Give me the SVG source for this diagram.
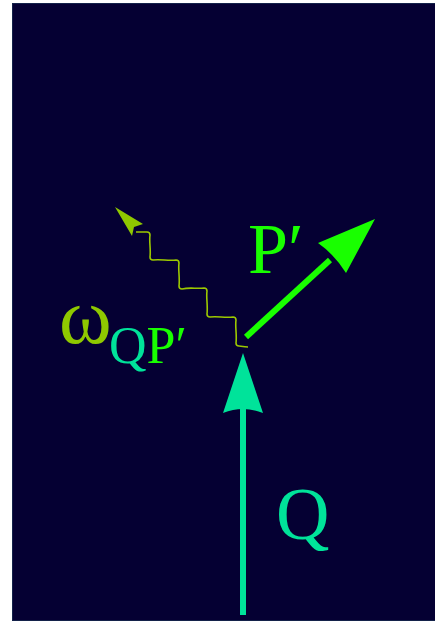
<svg xmlns="http://www.w3.org/2000/svg" width="435" height="621" viewBox="0 0 435 621">
<style>
.lbl{font-family:"Liberation Serif","Times New Roman",serif}
.q{fill:#00e39a}
.p{fill:#19ff00}
.w{fill:#8fc800}
</style>
<rect x="0" y="0" width="435" height="621" fill="#ffffff"/>
<rect x="12.5" y="3.5" width="423" height="617" fill="#050033" stroke="#14224a" stroke-width="1"/>
<g id="connectors">
<g id="edge-Q">
<line x1="243" y1="615" x2="243" y2="408" stroke="#00e39a" stroke-width="6"/>
<path d="M243,353 L263,413 Q243,405 223,413 Z" fill="#00e39a"/>
</g>
<g id="edge-P">
<line x1="246" y1="337" x2="330" y2="260" stroke="#19ff00" stroke-width="6"/>
<path d="M375,219 L346,273 Q334,254 318,243 Z" fill="#19ff00"/>
</g>
<g id="edge-omega">
<path d="M248,347 C244,347 240,346 239,346 Q236,346 236,343 C237,334 235,327 236,320 Q236,317 233,317 C224,318 218,316 210,317 Q207,317 207,314 C208,305 206,298 207,291 Q207,288 204,288 C196,289 190,287 182,289 Q179,289 179,286 C180,277 178,270 179,263 Q179,260 176,260 C168,261 161,259 153,260 Q150,260 150,257 C151,249 149,242 150,235 Q150,232 147,232 L136,232" fill="none" stroke="#9cc800" stroke-width="1.6"/>
<path d="M115,207 L143,224 L134,227 L132,236 Z" fill="#8fc800"/>
</g>
</g>
<g id="node-Q"><text class="lbl q" x="276" y="539" font-size="74">Q</text></g>
<g id="node-P"><text class="lbl p" x="248" y="273" font-size="72">P′</text></g>
<g id="node-omega"><text class="lbl" y="343"><tspan class="w" x="59" font-size="80">ω</tspan><tspan class="q" x="109" y="363" font-size="52">Q</tspan><tspan class="p" font-size="52">P′</tspan></text></g>
</svg>
